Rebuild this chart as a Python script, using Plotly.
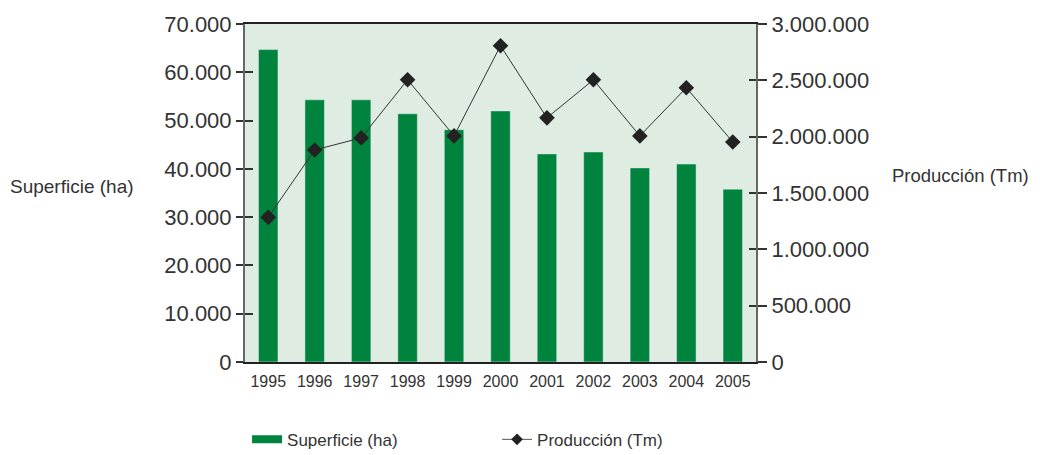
import plotly.graph_objects as go

years = ["1995", "1996", "1997", "1998", "1999", "2000", "2001", "2002", "2003", "2004", "2005"]
superficie = [64700, 54300, 54300, 51400, 48100, 52000, 43100, 43500, 40200, 41000, 35800]
produccion = [1284000, 1882000, 1989000, 2505000, 2007000, 2807000, 2167000, 2505000, 2007000, 2434000, 1953000]

left_ticks = [0, 10000, 20000, 30000, 40000, 50000, 60000, 70000]
right_ticks = [0, 500000, 1000000, 1500000, 2000000, 2500000, 3000000]

GREEN = "#00843d"
FONT = "Liberation Sans, Arial, sans-serif"
TXT = "#333333"

fig = go.Figure()
fig.add_trace(go.Bar(x=years, y=superficie, name="Superficie (ha)", marker_color=GREEN,
                     width=0.42, showlegend=False, yaxis="y"))
fig.add_trace(go.Scatter(x=years, y=produccion, name="Producción (Tm)", mode="lines+markers",
                         line=dict(color="#333333", width=1),
                         marker=dict(symbol="diamond", size=12, color="#222222"),
                         yaxis="y2", showlegend=False))
# legend entries
fig.add_trace(go.Scatter(x=[None], y=[None], mode="lines", name="Superficie (ha)",
                         line=dict(color=GREEN, width=8), yaxis="y"))
fig.add_trace(go.Scatter(x=[None], y=[None], mode="lines+markers", name="Producción (Tm)",
                         line=dict(color="#555555", width=1),
                         marker=dict(symbol="diamond", size=9, color="#222222"), yaxis="y"))
# dummy traces to show inside ticks on overlay axes
fig.add_trace(go.Scatter(x=[None], y=[None], yaxis="y3", showlegend=False))
fig.add_trace(go.Scatter(x=[None], y=[None], yaxis="y4", showlegend=False))

fig.update_layout(
    width=1032, height=447,
    margin=dict(l=237, r=284, t=16, b=93, autoexpand=False),
    paper_bgcolor="white", plot_bgcolor="#dfece2",
    separators=",.",
    font=dict(family=FONT, color=TXT),
    xaxis=dict(type="category", range=[-0.5, 10.5], showgrid=False, automargin=False,
               showline=True, linecolor="#222222", linewidth=2, mirror=True,
               ticks="outside", ticklen=4, tickcolor="rgba(0,0,0,0)",
               tickfont=dict(size=16, color=TXT)),
    yaxis=dict(range=[0, 70000], tickvals=left_ticks, tickformat=",d", showgrid=False,
               automargin=False,
               zeroline=False, showline=True, linecolor="#666666", linewidth=2,
               ticks="outside", ticklen=7, tickwidth=1.5, tickcolor="#333333",
               tickfont=dict(size=22, color=TXT)),
    yaxis2=dict(range=[0, 3000000], tickvals=right_ticks, tickformat=",d", overlaying="y",
                side="right", showgrid=False, zeroline=False, showline=True, automargin=False,
                linecolor="#666666", linewidth=2, ticks="outside", ticklen=9, tickwidth=1.5,
                tickcolor="#333333", tickfont=dict(size=22, color=TXT)),
    yaxis3=dict(range=[0, 70000], tickvals=left_ticks, overlaying="y", side="left",
                showgrid=False, zeroline=False, showticklabels=False, automargin=False,
                ticks="inside", ticklen=8, tickwidth=1.5, tickcolor="#333333"),
    yaxis4=dict(range=[0, 3000000], tickvals=right_ticks, overlaying="y", side="right",
                showgrid=False, zeroline=False, showticklabels=False, automargin=False,
                ticks="inside", ticklen=7, tickwidth=1.5, tickcolor="#333333"),
    legend=dict(orientation="h", x=0.004, xanchor="left", yref="container", y=0.034,
                yanchor="middle",
                font=dict(size=17, color=TXT), entrywidth=205, entrywidthmode="pixels",
                bgcolor="rgba(0,0,0,0)"),
    annotations=[
        dict(text="Superficie (ha)", xref="paper", yref="paper", x=-0.464, y=0.518,
             xanchor="left", yanchor="middle", showarrow=False, font=dict(size=19, color=TXT)),
        dict(text="Producción (Tm)", xref="paper", yref="paper", x=1.262, y=0.553,
             xanchor="left", yanchor="middle", showarrow=False, font=dict(size=18.5, color=TXT)),
    ],
)

fig.write_html("out.html")
